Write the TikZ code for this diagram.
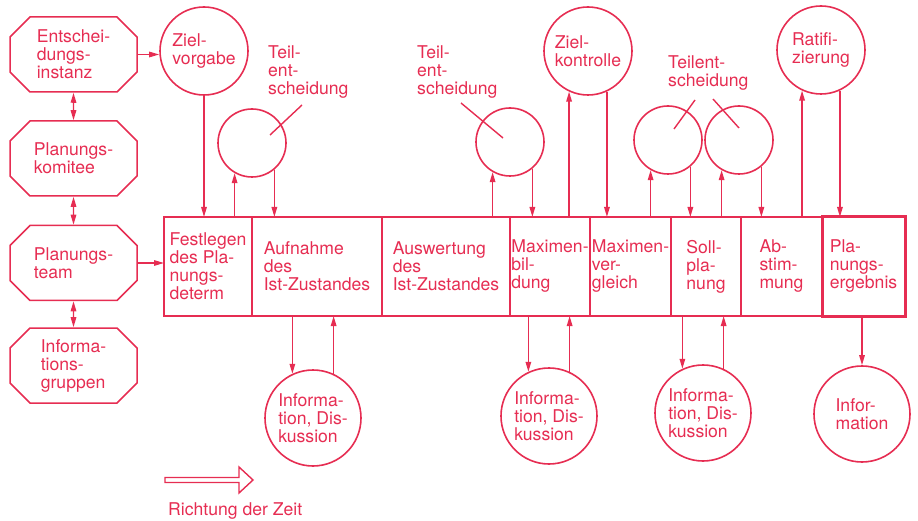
\documentclass[tikz,border=0pt]{standalone}
\usepackage{fontspec}
\setmainfont{TeX Gyre Heros}
\usepackage{tikz}
\usetikzlibrary{shapes.geometric, shapes.misc, arrows.meta}
\definecolor{planred}{RGB}{230,45,82}

\begin{document}
\begin{tikzpicture}[x=1pt,y=-1pt,
		every node/.style={font=\fontsize{17.6}{18}\selectfont, text=planred, align=left},
		>={Triangle[length=10pt,width=5.5pt]},
		gremium/.style={draw=planred, line width=1.5pt, chamfered rectangle,
			chamfered rectangle xsep=10pt, chamfered rectangle ysep=10pt,
			minimum width=127pt, minimum height=75pt, inner sep=0pt},
		kreis/.style={draw=planred, circle, line width=1.6pt, minimum size=#1, inner sep=0pt},
		phase/.style={draw=planred, line width=1.5pt, minimum width=#1, minimum height=99pt,
			inner sep=0pt, outer sep=0pt},
		pfeil/.style={draw=planred, line width=1.4pt, ->},
		zeiger/.style={draw=planred, line width=1.4pt}]
		\useasboundingbox (0,0) rectangle (918,521);
		
		% Gremien links
		\node[gremium] (inst) at (73.5,54.5) {Entschei-\\dungs-\\instanz};
		\node[gremium] (komitee) at (73.5,158.5) {Planungs-\\komitee};
		\node[gremium] (team) at (73.5,263) {Planungs-\\team};
		\node[gremium] (gruppen) at (73.5,365.5) {Informa-\\tions-\\gruppen};
		
		% Phasen
		\node[phase=88pt] (fest) at (208,266.5) {Festlegen\\des Pla-\\nungs-\\determ};
		\node[phase=130pt] (aufn) at (317,266.5) {Aufnahme\\des\\Ist-Zustandes};
		\node[phase=128pt] (ausw) at (446,266.5) {Auswertung\\des\\Ist-Zustandes};
		\node[phase=80pt] (maxb) at (550,266.5) {Maximen-\\bil-\\dung};
		\node[phase=81pt] (maxv) at (630.5,266.5) {Maximen-\\ver-\\gleich};
		\node[phase=70pt] (soll) at (706,266.5) {Soll-\\pla-\\nung};
		\node[phase=81pt] (abst) at (781.5,266.5) {Ab-\\stim-\\mung};
		\node[phase=83pt, line width=3pt] (erg) at (863.5,266.5) {Pla-\\nungs-\\ergebnis};
		
		% Kreise oben
		\node[kreis=88pt] (zielv) at (204,51) {Ziel-\\vorgabe};
		\node[kreis=68pt] (teilA) at (252,143) {};
		\node[kreis=68pt] (teilB) at (510,142) {};
		\node[kreis=88pt] (zielk) at (588,51) {Ziel-\\kontrolle};
		\node[kreis=68pt] (teilC) at (668,140) {};
		\node[kreis=68pt] (teilD) at (739,140) {};
		\node[kreis=88pt] (ratif) at (821,50) {Ratifi-\\zierung};
		
		\node[anchor=west, inner sep=0pt] (lblA) at (268,72) {Teil-\\ent-\\scheidung};
		\node[anchor=west, inner sep=0pt] (lblB) at (417,72) {Teil-\\ent-\\scheidung};
		\node[anchor=west, inner sep=0pt] (lblC) at (668,73) {Teilent-\\scheidung};
		
		% Kreise unten
		\node[kreis=96pt] (infoA) at (313,418) {Informa-\\tion, Dis-\\kussion};
		\node[kreis=96pt] (infoB) at (549,416) {Informa-\\tion, Dis-\\kussion};
		\node[kreis=96pt] (infoC) at (703,413) {Informa-\\tion, Dis-\\kussion};
		\node[kreis=96pt] (info) at (862,414) {Infor-\\mation};
		
		%%%%%%%%%%%%%%%%%%%%%%%%%%%%%%
		
		\draw[pfeil, <->] (inst) -- (komitee);
		\draw[pfeil, <->] (komitee) -- (team);
		\draw[pfeil, <->] (team) -- (gruppen);
		\draw[pfeil] (inst.east) -- (inst.east -| zielv.west);
		\draw[pfeil] (team.east) -- (team.east -| fest.west);
		
		\draw[pfeil] (zielv) -- (zielv |- fest.north);
		\draw[pfeil] (teilA.240 |- fest.north) -- (teilA.240);
		\draw[pfeil] (teilA.310) -- (teilA.310 |- aufn.north);
		\draw[pfeil] (teilB.240 |- ausw.north) -- (teilB.240);
		\draw[pfeil] (teilB.310) -- (teilB.310 |- maxb.north);
		\draw[pfeil] (zielk.245 |- maxb.north) -- (zielk.245);
		\draw[pfeil] (zielk.295) -- (zielk.295 |- maxv.north);
		\draw[pfeil] (teilC.240 |- maxv.north) -- (teilC.240);
		\draw[pfeil] (teilC.310) -- (teilC.310 |- soll.north);
		\draw[pfeil] (teilD.240 |- soll.north) -- (teilD.240);
		\draw[pfeil] (teilD.310) -- (teilD.310 |- abst.north);
		\draw[pfeil] (ratif.245 |- abst.north) -- (ratif.245);
		\draw[pfeil] (ratif.295) -- (ratif.295 |- erg.north);
		
		\draw[pfeil] (infoA.115 |- aufn.south) -- (infoA.115);
		\draw[pfeil] (infoA.65) -- (infoA.65 |- aufn.south);
		\draw[pfeil] (infoB.115 |- maxb.south) -- (infoB.115);
		\draw[pfeil] (infoB.65) -- (infoB.65 |- maxb.south);
		\draw[pfeil] (infoC.115 |- soll.south) -- (infoC.115);
		\draw[pfeil] (infoC.65) -- (infoC.65 |- soll.south);
		\draw[pfeil] (erg.south -| info) -- (info);
		
		\draw[zeiger] (teilA) ++(18,-8) -- ++(32,-30);
		\draw[zeiger] (teilB) ++(-7,-4) -- ++(-42,-35);
		\draw[zeiger] (teilC) ++(6,-11) -- ++(21,-29);
		\draw[zeiger] (teilD) ++(0,-12) -- ++(-26,-29);
		
		% Richtung der Zeit
		\draw[planred, line width=1.4pt] (165,477.5) -- (239,477.5) -- (239,467) -- (253,480)
			-- (239,493) -- (239,482.5) -- (165,482.5) -- cycle;
		\node[anchor=base west, inner sep=0pt] (zeit) at (168,515) {Richtung der Zeit};
	\end{tikzpicture}
\end{document}
